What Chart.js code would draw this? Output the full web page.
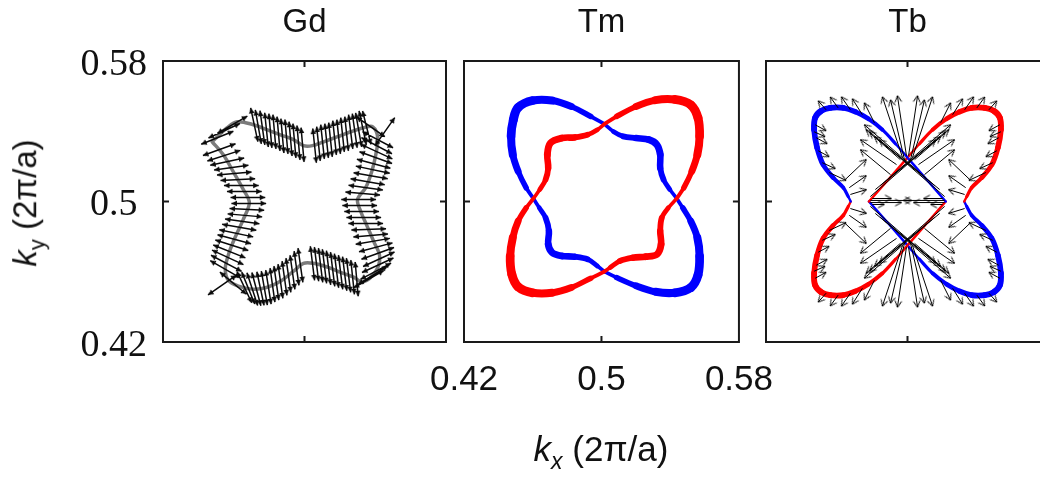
<!DOCTYPE html>
<html><head><meta charset="utf-8">
<script src="https://cdn.jsdelivr.net/npm/chart.js@4.4.0/dist/chart.umd.min.js"></script>
<style>
html,body{margin:0;padding:0;overflow:hidden;background:#fff;}
#wrap{position:relative;width:1040px;height:479px;overflow:hidden;background:#fff;}
canvas{position:absolute;top:0;}
.lbl{position:absolute;white-space:nowrap;font-family:'Liberation Sans',Arial,sans-serif;color:#111;line-height:1;}
</style></head><body>
<div id="wrap">
<canvas id="c1" width="470" height="479" style="left:0px"></canvas>
<canvas id="c2" width="380" height="479" style="left:410px"></canvas>
<canvas id="c3" width="320" height="479" style="left:740px"></canvas>
<div class="lbl" id="ytitle" style="left:28px;top:203px;font-size:33px;transform:translate(-50%,-50%) rotate(-90deg);"><i>k</i><sub style="font-size:22px;">y</sub> (2π/a)</div>
<div class="lbl" id="xtitle" style="left:601px;top:452px;font-size:35px;transform:translate(-50%,-50%);"><i>k</i><sub style="font-size:23px;"><i>x</i></sub> (2π/a)</div>
</div>
<script>
// ---------- data ----------
const panelTitles = ['Gd', 'Tm', 'Tb'];
const tickValues = [0.42, 0.5, 0.58];
const axisMin = 0.42, axisMax = 0.58;

// Gd: Fermi contour (kx, ky)
const gdContour = [[0.4478,0.5340],[0.4563,0.5420],[0.4620,0.5454],[0.4711,0.5437],[0.4790,0.5408],[0.4864,0.5380],[0.4938,0.5352],[0.4994,0.5318],[0.5045,0.5318],[0.5108,0.5340],[0.5187,0.5369],[0.5261,0.5397],[0.5335,0.5420],[0.5386,0.5425],[0.5414,0.5363],[0.5403,0.5266],[0.5380,0.5170],[0.5346,0.5079],[0.5300,0.5011],[0.5318,0.4943],[0.5352,0.4864],[0.5391,0.4773],[0.5425,0.4688],[0.5403,0.4603],[0.5329,0.4541],[0.5278,0.4569],[0.5204,0.4597],[0.5130,0.4626],[0.5051,0.4648],[0.4994,0.4648],[0.4938,0.4603],[0.4864,0.4546],[0.4790,0.4512],[0.4711,0.4501],[0.4626,0.4518],[0.4569,0.4552],[0.4552,0.4614],[0.4569,0.4694],[0.4603,0.4785],[0.4654,0.4898],[0.4688,0.4994],[0.4654,0.5068],[0.4597,0.5170],[0.4541,0.5266],[0.4478,0.5340]];

// Gd: spin arrows (centre kx, centre ky, direction in degrees)
const gdArrowX = [0.4716,0.4739,0.4762,0.4785,0.4807,0.4830,0.4853,0.4875,0.4898,0.4921,0.4943,0.4966,0.4989,0.5057,0.5079,0.5102,0.5125,0.5147,0.5170,0.5193,0.5215,0.5238,0.5261,0.5284,0.5306,0.5329,0.5352,
 0.5414,0.5408,0.5408,0.5403,0.5391,0.5386,0.5374,0.5357,0.5346,0.5329,0.5306,0.5312,0.5323,0.5335,0.5346,0.5363,0.5374,0.5386,0.5403,0.5414,0.5420,0.5414,0.5403,
 0.5295,0.5272,0.5249,0.5227,0.5204,0.5181,0.5159,0.5136,0.5113,0.5091,0.5068,0.5045,0.4977,0.4955,0.4932,0.4909,0.4887,0.4864,0.4841,0.4819,0.4796,0.4773,0.4751,0.4728,0.4705,0.4682,0.4660,
 0.4518,0.4544,0.4563,0.4586,0.4603,0.4623,0.4643,0.4660,0.4680,0.4685,0.4674,0.4663,0.4648,0.4631,0.4614,0.4603,0.4589,0.4575,0.4566,0.4558,0.4552,
 0.4592,0.4546,0.4507,0.5374,0.5454,0.4597,0.4535,0.5363,0.5386];
const gdArrowY = [0.5437,0.5425,0.5420,0.5408,0.5403,0.5397,0.5386,0.5374,0.5369,0.5357,0.5346,0.5335,0.5323,0.5318,0.5329,0.5340,0.5346,0.5352,0.5363,0.5369,0.5380,0.5386,0.5397,0.5403,0.5408,0.5420,0.5420,
 0.5352,0.5318,0.5284,0.5250,0.5215,0.5181,0.5147,0.5113,0.5079,0.5045,0.5011,0.4977,0.4943,0.4909,0.4875,0.4841,0.4807,0.4773,0.4739,0.4705,0.4671,0.4637,0.4603,
 0.4558,0.4569,0.4580,0.4589,0.4597,0.4606,0.4614,0.4623,0.4631,0.4637,0.4643,0.4648,0.4637,0.4620,0.4597,0.4580,0.4563,0.4546,0.4535,0.4524,0.4512,0.4507,0.4504,0.4501,0.4501,0.4507,0.4512,
 0.5295,0.5261,0.5227,0.5193,0.5159,0.5125,0.5091,0.5057,0.5023,0.4989,0.4955,0.4921,0.4887,0.4853,0.4819,0.4785,0.4751,0.4716,0.4682,0.4648,0.4614,
 0.5437,0.5403,0.5363,0.5425,0.5397,0.4535,0.4524,0.4558,0.4580];
const gdArrowAngle = [102,100,98,96,95,95,95,95,95,95,95,95,95,96,96,96,96,96,96,96,96,96,97,98,100,102,104,
 -28,-28,-25,-20,-15,-12,-10,-10,-8,-5,0,0,0,0,0,2,5,10,15,20,25,25,28,
 95,96,97,97,97,97,97,97,97,97,97,97,98,98,98,98,98,98,98,98,99,100,102,105,108,112,115,
 20,18,12,8,5,3,0,0,0,0,-3,-5,-8,-10,-12,-15,-18,-22,-25,-28,-30,
 30,25,22,-35,55,-40,35,30,32];

// Tm: two spin-split contours, split at their crossings
const tmBlueOuterUL = [[0.5017,0.5441],[0.4938,0.5484],[0.4825,0.5541],[0.4713,0.5575],[0.4600,0.5575],[0.4515,0.5535],[0.4487,0.5465],[0.4474,0.5371],[0.4484,0.5267],[0.4515,0.5172],[0.4562,0.5078],[0.4604,0.5017]];
const tmBlueInnerLL = [[0.4604,0.5017],[0.4638,0.4964],[0.4675,0.4907],[0.4694,0.4832],[0.4690,0.4756],[0.4713,0.4709],[0.4769,0.4690],[0.4844,0.4686],[0.4919,0.4671],[0.4976,0.4633],[0.5017,0.4601]];
const tmBlueOuterLR = [[0.5017,0.4601],[0.5088,0.4567],[0.5201,0.4520],[0.5314,0.4486],[0.5426,0.4480],[0.5520,0.4510],[0.5562,0.4582],[0.5571,0.4690],[0.5558,0.4794],[0.5520,0.4888],[0.5473,0.4964],[0.5438,0.5017]];
const tmBlueInnerUR = [[0.5438,0.5017],[0.5398,0.5068],[0.5361,0.5125],[0.5342,0.5191],[0.5342,0.5267],[0.5323,0.5323],[0.5276,0.5352],[0.5201,0.5361],[0.5126,0.5371],[0.5069,0.5399],[0.5017,0.5441]];
const tmRedOuterUR = [[0.5017,0.5441],[0.5088,0.5484],[0.5201,0.5541],[0.5314,0.5577],[0.5426,0.5581],[0.5520,0.5550],[0.5562,0.5475],[0.5571,0.5371],[0.5558,0.5267],[0.5526,0.5172],[0.5479,0.5078],[0.5438,0.5017]];
const tmRedInnerLR = [[0.5438,0.5017],[0.5389,0.4964],[0.5351,0.4907],[0.5342,0.4832],[0.5347,0.4756],[0.5323,0.4699],[0.5257,0.4686],[0.5182,0.4680],[0.5107,0.4661],[0.5051,0.4624],[0.5017,0.4601]];
const tmRedOuterLL = [[0.5017,0.4601],[0.4938,0.4563],[0.4825,0.4510],[0.4713,0.4480],[0.4600,0.4480],[0.4515,0.4514],[0.4478,0.4586],[0.4469,0.4690],[0.4484,0.4794],[0.4515,0.4888],[0.4562,0.4964],[0.4604,0.5017]];
const tmRedInnerUL = [[0.4604,0.5017],[0.4641,0.5068],[0.4675,0.5125],[0.4690,0.5191],[0.4685,0.5267],[0.4703,0.5333],[0.4769,0.5361],[0.4844,0.5365],[0.4919,0.5380],[0.4976,0.5409],[0.5017,0.5441]];

// Tb: lobes and inner diamond
const tbBlueUL = [[0.4679,0.5000],[0.4665,0.5028],[0.4637,0.5079],[0.4580,0.5136],[0.4523,0.5210],[0.4489,0.5306],[0.4472,0.5409],[0.4478,0.5477],[0.4512,0.5516],[0.4563,0.5533],[0.4637,0.5533],[0.4705,0.5511],[0.4779,0.5471],[0.4858,0.5409],[0.4932,0.5329],[0.5000,0.5250]];
const tbRedUR = [[0.5321,0.5000],[0.5335,0.5028],[0.5363,0.5079],[0.5420,0.5136],[0.5477,0.5210],[0.5511,0.5306],[0.5528,0.5409],[0.5522,0.5477],[0.5488,0.5516],[0.5437,0.5533],[0.5363,0.5533],[0.5295,0.5511],[0.5221,0.5471],[0.5142,0.5409],[0.5068,0.5329],[0.5000,0.5250]];
const tbRedLL = [[0.4679,0.5000],[0.4665,0.4972],[0.4637,0.4921],[0.4580,0.4864],[0.4523,0.4790],[0.4489,0.4694],[0.4472,0.4591],[0.4478,0.4523],[0.4512,0.4484],[0.4563,0.4467],[0.4637,0.4467],[0.4705,0.4489],[0.4779,0.4529],[0.4858,0.4591],[0.4932,0.4671],[0.5000,0.4750]];
const tbBlueLR = [[0.5321,0.5000],[0.5335,0.4972],[0.5363,0.4921],[0.5420,0.4864],[0.5477,0.4790],[0.5511,0.4694],[0.5528,0.4591],[0.5522,0.4523],[0.5488,0.4484],[0.5437,0.4467],[0.5363,0.4467],[0.5295,0.4489],[0.5221,0.4529],[0.5142,0.4591],[0.5068,0.4671],[0.5000,0.4750]];
const tbBlueDiamondTop = [[0.5000,0.5250],[0.5108,0.5125],[0.5216,0.5000]];
const tbRedDiamondTop = [[0.5000,0.5250],[0.4892,0.5125],[0.4782,0.5000]];
const tbRedDiamondBottom = [[0.5000,0.4750],[0.5108,0.4875],[0.5216,0.5000]];
const tbBlueDiamondBottom = [[0.5000,0.4750],[0.4892,0.4875],[0.4782,0.5000]];

// Tb: spin arrows (tail kx, tail ky, spin x, spin y)
const tbTailX = [
 0.4478,0.4484,0.4495,0.4518,0.4557,0.4540,0.4608,0.4677,0.4745,0.4813,0.4960,0.4938,0.4972,0.4994,0.4818,0.4875,0.4671,0.4677,0.4648,0.4472,0.4983,0.4790,0.4847,0.4904,
 0.5522,0.5516,0.5505,0.5482,0.5443,0.5460,0.5392,0.5323,0.5255,0.5187,0.5040,0.5062,0.5028,0.5006,0.5182,0.5125,0.5329,0.5323,0.5352,0.5528,0.5017,0.5210,0.5153,0.5096,
 0.4478,0.4484,0.4495,0.4518,0.4557,0.4540,0.4608,0.4677,0.4745,0.4813,0.4960,0.4938,0.4972,0.4994,0.4818,0.4875,0.4671,0.4677,0.4648,0.4472,0.4983,0.4790,0.4847,0.4904,
 0.5522,0.5516,0.5505,0.5482,0.5443,0.5460,0.5392,0.5323,0.5255,0.5187,0.5040,0.5062,0.5028,0.5006,0.5182,0.5125,0.5329,0.5323,0.5352,0.5528,0.5017,0.5210,0.5153,0.5096,
 0.5210,0.5210,0.5199,0.5199,0.4790,0.4790,0.4801,0.4801];
const tbTailY = [
 0.5437,0.5363,0.5289,0.5221,0.5165,0.5522,0.5533,0.5522,0.5494,0.5448,0.5238,0.5210,0.5250,0.5261,0.5068,0.5114,0.5079,0.5040,0.5125,0.5397,0.5238,0.5028,0.5091,0.5153,
 0.5437,0.5363,0.5289,0.5221,0.5165,0.5522,0.5533,0.5522,0.5494,0.5448,0.5238,0.5210,0.5250,0.5261,0.5068,0.5114,0.5079,0.5040,0.5125,0.5397,0.5238,0.5028,0.5091,0.5153,
 0.4563,0.4637,0.4711,0.4779,0.4835,0.4478,0.4467,0.4478,0.4506,0.4552,0.4762,0.4790,0.4750,0.4739,0.4932,0.4886,0.4921,0.4960,0.4875,0.4603,0.4762,0.4972,0.4909,0.4847,
 0.4563,0.4637,0.4711,0.4779,0.4835,0.4478,0.4467,0.4478,0.4506,0.4552,0.4762,0.4790,0.4750,0.4739,0.4932,0.4886,0.4921,0.4960,0.4875,0.4603,0.4762,0.4972,0.4909,0.4847,
 0.5006,0.4994,0.5017,0.4983,0.5006,0.4994,0.5017,0.4983];
const tbSpinX = [
 0.0062,0.0062,0.0062,0.0074,0.0096,-0.0045,-0.0045,-0.0051,-0.0057,-0.0057,-0.0193,-0.0204,-0.0114,-0.0051,0.0397,0.0312,0.0096,0.0091,0.0119,0.0062,-0.0079,0.0369,0.0397,-0.0170,
 -0.0062,-0.0062,-0.0062,-0.0074,-0.0096,0.0045,0.0045,0.0051,0.0057,0.0057,0.0193,0.0204,0.0114,0.0051,-0.0397,-0.0312,-0.0096,-0.0091,-0.0119,-0.0062,0.0079,-0.0369,-0.0397,0.0170,
 0.0062,0.0062,0.0062,0.0074,0.0096,-0.0045,-0.0045,-0.0051,-0.0057,-0.0057,-0.0193,-0.0204,-0.0114,-0.0051,0.0397,0.0312,0.0096,0.0091,0.0119,0.0062,-0.0079,0.0369,0.0397,-0.0170,
 -0.0062,-0.0062,-0.0062,-0.0074,-0.0096,0.0045,0.0045,0.0051,0.0057,0.0057,0.0193,0.0204,0.0114,0.0051,-0.0397,-0.0312,-0.0096,-0.0091,-0.0119,-0.0062,0.0079,-0.0369,-0.0397,0.0170,
 -0.0233,-0.0176,-0.0108,-0.0068,0.0233,0.0176,0.0108,0.0068];
const tbSpinY = [
 -0.0034,-0.0034,-0.0034,-0.0034,-0.0045,0.0051,0.0062,0.0074,0.0091,0.0114,0.0170,0.0142,0.0346,0.0341,0.0329,0.0255,0.0068,0.0028,0.0114,-0.0028,0.0341,0.0323,0.0346,0.0142,
 -0.0034,-0.0034,-0.0034,-0.0034,-0.0045,0.0051,0.0062,0.0074,0.0091,0.0114,0.0170,0.0142,0.0346,0.0341,0.0329,0.0255,0.0068,0.0028,0.0114,-0.0028,0.0341,0.0323,0.0346,0.0142,
 0.0034,0.0034,0.0034,0.0034,0.0045,-0.0051,-0.0062,-0.0074,-0.0091,-0.0114,-0.0170,-0.0142,-0.0346,-0.0341,-0.0329,-0.0255,-0.0068,-0.0028,-0.0114,0.0028,-0.0341,-0.0323,-0.0346,-0.0142,
 0.0034,0.0034,0.0034,0.0034,0.0045,-0.0051,-0.0062,-0.0074,-0.0091,-0.0114,-0.0170,-0.0142,-0.0346,-0.0341,-0.0329,-0.0255,-0.0068,-0.0028,-0.0114,0.0028,-0.0341,-0.0323,-0.0346,-0.0142,
 0,0,0,0,0,0,0,0];

// ---------- styling / helpers ----------
const GD_HALF = 0.0098;
const BLUE = '#0000ff', RED = '#ff0000';
const sansFont = "'Liberation Sans', Arial, sans-serif";
const serifFont = "'Liberation Serif', 'Times New Roman', serif";

function pts(arr) { return arr.map(p => ({x: p[0], y: p[1]})); }

function headImage(len, halfW, filled, lw) {
  const s = Math.ceil(len * 2 + 6);
  const c = document.createElement('canvas'); c.width = s; c.height = s;
  const g = c.getContext('2d'); const m = s / 2;
  g.beginPath(); g.moveTo(m - halfW, m + len); g.lineTo(m, m); g.lineTo(m + halfW, m + len);
  if (filled) { g.closePath(); g.fillStyle = '#0a0a0a'; g.fill(); }
  else { g.strokeStyle = '#000'; g.lineWidth = lw; g.lineCap = 'round'; g.stroke(); }
  return c;
}
const gdHead = headImage(5.5, 2.8, true, 1);
const tbHead = headImage(6, 3.2, false, 1);

function curve(arr, color, wMin, wMax, order) {
  const n = arr.length - 1;
  const ds = {
    data: pts(arr), showLine: true, borderColor: color, pointRadius: 0, tension: 0.35,
    borderCapStyle: 'round', borderJoinStyle: 'round', order: order, borderWidth: wMax
  };
  if (wMin !== wMax) {
    ds.segment = { borderWidth: c => wMin + (wMax - wMin) * Math.sin(Math.PI * (c.p0DataIndex + 0.5) / n) };
  }
  return ds;
}

function shaftSet(data, width, color, order) {
  return { data, showLine: true, borderColor: color, borderWidth: width, pointRadius: 0, spanGaps: false, order };
}
function headSet(data, img, order) {
  return { data, showLine: false, pointStyle: img, pointRadius: 3, order,
    pointRotation: c => (c.raw && c.raw.rot) || 0 };
}

// Gd arrows
const gdShafts = [], gdHeads = [];
for (let i = 0; i < gdArrowX.length; i++) {
  const a = gdArrowAngle[i] * Math.PI / 180;
  const hx = GD_HALF * Math.cos(a), hy = GD_HALF * Math.sin(a);
  const x0 = gdArrowX[i] - hx, y0 = gdArrowY[i] - hy, x1 = gdArrowX[i] + hx, y1 = gdArrowY[i] + hy;
  gdShafts.push({x: x0, y: y0}, {x: x1, y: y1}, {x: NaN, y: NaN});
  gdHeads.push({x: x1, y: y1, rot: 90 - gdArrowAngle[i]}, {x: x0, y: y0, rot: 270 - gdArrowAngle[i]});
}
// Tb arrows
const tbShafts = [], tbHeads = [];
for (let i = 0; i < tbTailX.length; i++) {
  const x1 = tbTailX[i] + tbSpinX[i], y1 = tbTailY[i] + tbSpinY[i];
  tbShafts.push({x: tbTailX[i], y: tbTailY[i]}, {x: x1, y: y1}, {x: NaN, y: NaN});
  tbHeads.push({x: x1, y: y1, rot: Math.atan2(tbSpinX[i], tbSpinY[i]) * 180 / Math.PI});
}

const framePlugin = {
  id: 'frame',
  afterDatasetsDraw(chart) {
    const {ctx, chartArea: a, scales: {x, y}} = chart;
    ctx.save();
    ctx.strokeStyle = '#1a1a1a'; ctx.lineWidth = 2;
    ctx.strokeRect(a.left, a.top, a.right - a.left, a.bottom - a.top);
    const mx = x.getPixelForValue(tickValues[1]), my = y.getPixelForValue(tickValues[1]);
    const L = 6;
    ctx.beginPath();
    ctx.moveTo(mx, a.top); ctx.lineTo(mx, a.top + L);
    ctx.moveTo(mx, a.bottom); ctx.lineTo(mx, a.bottom - L);
    ctx.moveTo(a.left, my); ctx.lineTo(a.left + L, my);
    ctx.moveTo(a.right, my); ctx.lineTo(a.right - L, my);
    ctx.stroke(); ctx.restore();
  }
};

function setTicks(s) { s.ticks = tickValues.map(v => ({value: v})); }

function makeChart(id, title, datasets, o) {
  return new Chart(document.getElementById(id), {
    type: 'scatter',
    data: { datasets },
    options: {
      responsive: false, animation: false, devicePixelRatio: 1, events: [],
      layout: { padding: o.padding },
      plugins: {
        legend: { display: false }, tooltip: { enabled: false },
        title: { display: true, text: title, fullSize: false, color: '#111',
          font: { family: sansFont, size: 33, weight: 'normal', lineHeight: 1.2 },
          padding: { top: 3, bottom: 18.4 } }
      },
      scales: {
        x: { type: 'linear', min: axisMin, max: axisMax, display: !!o.showX,
          afterBuildTicks: setTicks,
          afterFit: s => { s.height = o.showX ? 60 : 0; },
          grid: { display: false, drawTicks: false }, border: { display: false },
          ticks: { font: { family: sansFont, size: 35 }, color: '#111', padding: 17,
            maxRotation: 0, autoSkip: false, callback: v => String(v) } },
        y: { type: 'linear', min: axisMin, max: axisMax, display: !!o.showY,
          afterBuildTicks: setTicks,
          afterFit: s => { s.width = o.showY ? 163 : 0; },
          grid: { display: false, drawTicks: false }, border: { display: false },
          ticks: { font: { family: serifFont, size: 38 }, color: '#111', padding: 16,
            crossAlign: 'center', labelOffset: 4, autoSkip: false, callback: v => String(v) } }
      }
    },
    plugins: [framePlugin]
  });
}

makeChart('c1', panelTitles[0], [
  headSet(gdHeads, gdHead, 0),
  shaftSet(gdShafts, 1.5, '#0a0a0a', 1),
  curve(gdContour, 'rgba(90,90,90,0.8)', 3.5, 3.5, 2)
], { padding: { left: 0, top: 0, right: 24, bottom: 137 }, showY: true });

makeChart('c2', panelTitles[1], [
  curve(tmRedOuterUR, RED, 3, 9, 1), curve(tmRedInnerLR, RED, 3, 7, 1),
  curve(tmRedOuterLL, RED, 3, 9, 1), curve(tmRedInnerUL, RED, 3, 7, 1),
  curve(tmBlueOuterUL, BLUE, 3, 9, 2), curve(tmBlueInnerLL, BLUE, 3, 7, 2),
  curve(tmBlueOuterLR, BLUE, 3, 9, 2), curve(tmBlueInnerUR, BLUE, 3, 7, 2)
], { padding: { left: 54, top: 0, right: 43, bottom: 77 }, showX: true });

makeChart('c3', panelTitles[2], [
  headSet(tbHeads, tbHead, 0),
  shaftSet(tbShafts, 1, '#000', 1),
  curve(tbBlueUL, BLUE, 2, 6, 2), curve(tbRedUR, RED, 2, 6, 2),
  curve(tbRedLL, RED, 2, 6, 2), curve(tbBlueLR, BLUE, 2, 6, 2),
  curve(tbBlueDiamondTop, BLUE, 2.5, 2.5, 3), curve(tbRedDiamondTop, RED, 2.5, 2.5, 3),
  curve(tbRedDiamondBottom, RED, 2.5, 2.5, 3), curve(tbBlueDiamondBottom, BLUE, 2.5, 2.5, 3)
], { padding: { left: 26, top: 0, right: 11, bottom: 137 } });
</script>
</body></html>
